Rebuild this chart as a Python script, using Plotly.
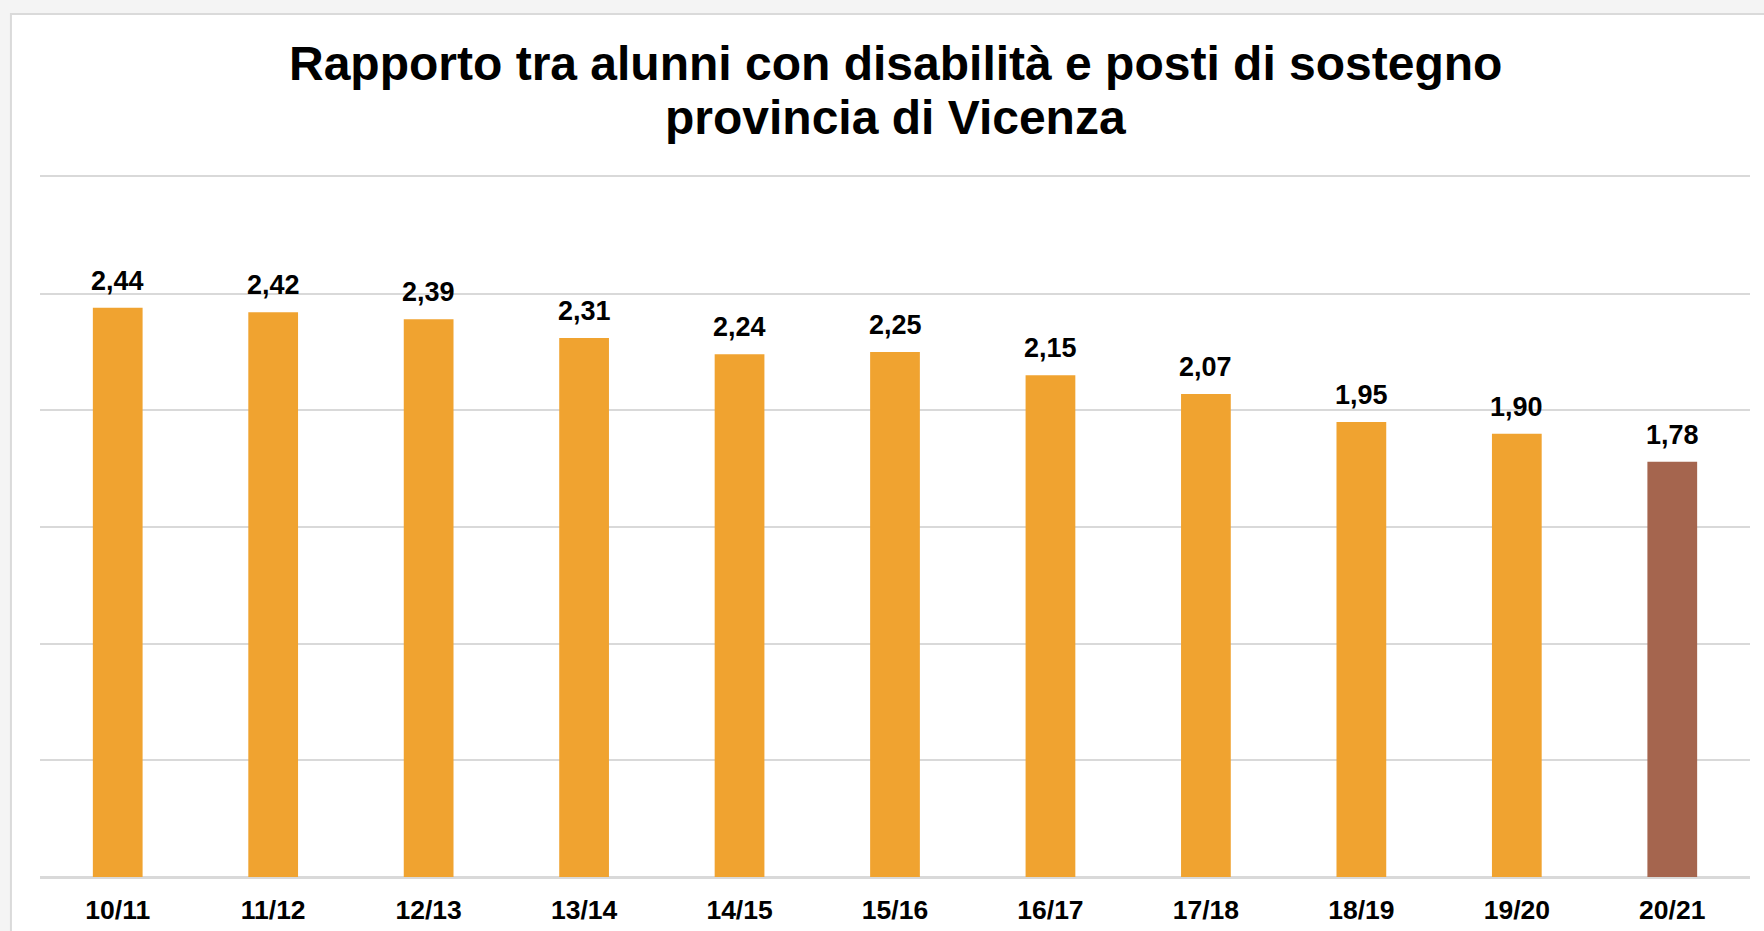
import plotly.graph_objects as go

categories = ["10/11", "11/12", "12/13", "13/14", "14/15", "15/16",
              "16/17", "17/18", "18/19", "19/20", "20/21"]
values = [2.44, 2.42, 2.39, 2.31, 2.24, 2.25, 2.15, 2.07, 1.95, 1.90, 1.78]
bar_colors = ["#F0A330"] * 10 + ["#A5654E"]
title_lines = ["Rapporto tra alunni con disabilità e posti di sostegno",
               "provincia di Vicenza"]

FONT = "Liberation Sans, Arial, sans-serif"

fig = go.Figure()
fig.add_trace(go.Bar(
    x=categories, y=values,
    marker=dict(color=bar_colors, line=dict(width=0)),
    hoverinfo="x+y",
))

annotations = []
for c, v in zip(categories, values):
    annotations.append(dict(
        x=c, y=v, xref="x", yref="y",
        text=f"{v:.2f}".replace(".", ","),
        showarrow=False, yanchor="bottom", yshift=10,
        font=dict(family=FONT, size=27, color="#000000", weight="bold"),
    ))
for line, ypos in zip(title_lines, [1.1622, 1.0851]):
    annotations.append(dict(
        x=0.5, y=ypos, xref="paper", yref="paper",
        text=line, showarrow=False, xanchor="center", yanchor="middle",
        font=dict(family=FONT, size=48, color="#000000", weight="bold"),
    ))

fig.update_layout(
    width=1764, height=931,
    margin=dict(l=40, r=14, t=177, b=54, autoexpand=False),
    paper_bgcolor="#f4f4f4",
    plot_bgcolor="rgba(0,0,0,0)",
    bargap=0.68,
    showlegend=False,
    annotations=annotations,
    shapes=[dict(
        type="rect", xref="paper", yref="paper", layer="below",
        x0=-0.0170, x1=1.2, y0=-0.3, y1=1.2327,
        fillcolor="#ffffff", line=dict(color="#dadada", width=2),
    )],
    xaxis=dict(
        type="category", automargin=False,
        showgrid=False, ticks="",
        showline=True, mirror=True, linecolor="#d9d9d9", linewidth=2,
        ticklabelstandoff=8,
        tickfont=dict(family=FONT, size=26.5, color="#000000", weight="bold"),
    ),
    yaxis=dict(
        range=[0, 3], dtick=0.5, showticklabels=False, automargin=False,
        showgrid=True, gridcolor="#d9d9d9", gridwidth=2,
        zeroline=True, zerolinecolor="#d9d9d9", zerolinewidth=2,
        showline=False, ticks="",
    ),
)

fig.write_html(
    "out.html",
    config={"displayModeBar": False},
    post_script="document.body.style.margin='0';document.body.style.background='#f4f4f4';",
)
